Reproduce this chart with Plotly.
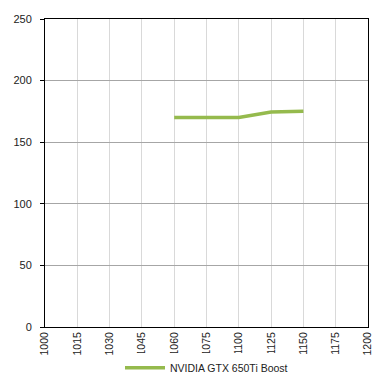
import plotly.graph_objects as go

categories = ["1000", "1015", "1030", "1045", "1060", "1075", "1100", "1125", "1150", "1175", "1200"]
series_x = ["1060", "1075", "1100", "1125", "1150"]
series_y = [170, 170, 170, 174.5, 175.2]
series_name = "NVIDIA GTX 650Ti Boost"
y_ticks = [0, 50, 100, 150, 200, 250]

fig = go.Figure()
fig.add_trace(go.Scatter(
    x=series_x, y=series_y, mode="lines", name=series_name,
    line=dict(color="#95ba4d", width=3.5),
))

fig.update_layout(
    width=379, height=379,
    margin=dict(l=45, r=11, t=19, b=52),
    paper_bgcolor="white", plot_bgcolor="white",
    font=dict(family="Liberation Sans, Arial", size=11, color="#222"),
    showlegend=True,
    legend=dict(orientation="h", x=0.5, xanchor="center",
                yref="container", y=0.03, yanchor="middle",
                font=dict(size=10.5, color="#222"), itemwidth=40),
)
fig.update_xaxes(
    type="category", categoryorder="array", categoryarray=categories,
    tickvals=categories, range=[0, len(categories) - 1], automargin=False,
    tickangle=-90, showgrid=True, gridcolor="#d9d9d9", gridwidth=1,
    showline=True, linecolor="black", linewidth=1, mirror=True,
    ticks="", zeroline=False, tickfont=dict(size=10.5),
)
fig.update_yaxes(
    range=[0, 250], tickvals=y_ticks, automargin=False,
    showgrid=True, gridcolor="#a6a6a6", gridwidth=1,
    showline=True, linecolor="black", linewidth=1, mirror=True,
    ticks="outside", ticklen=4, tickcolor="black", zeroline=False,
    ticklabelstandoff=6, tickfont=dict(size=11),
)

fig.write_html("out.html", config={"displayModeBar": False},
               post_script="document.body.style.margin='0';document.body.style.overflow='hidden';")
